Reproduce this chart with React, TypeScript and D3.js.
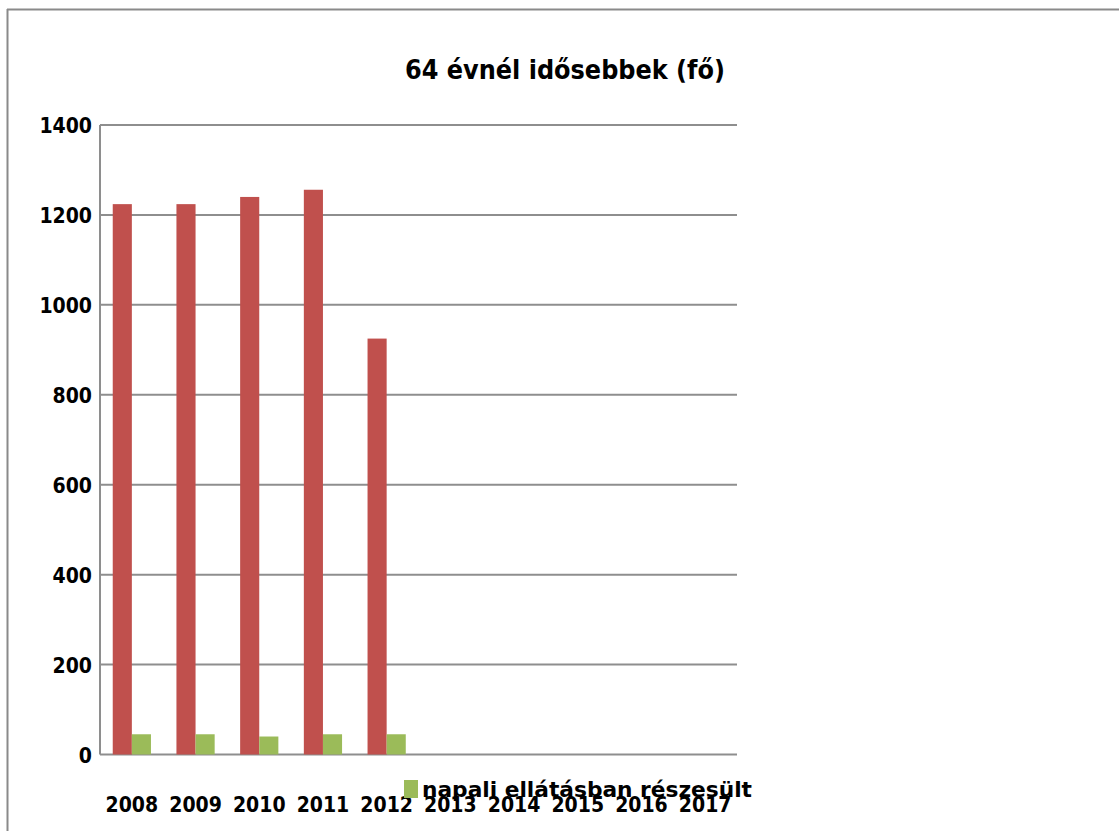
import React from "react";
import * as d3 from "d3";

const years = ["2008", "2009", "2010", "2011", "2012", "2013", "2014", "2015", "2016", "2017"];
const seriesRed: (number | null)[] = [1224, 1224, 1240, 1256, 925, null, null, null, null, null];
const seriesGreen: (number | null)[] = [45, 45, 40, 45, 45, null, null, null, null, null];
const yTicks = [0, 200, 400, 600, 800, 1000, 1200, 1400];
const title = "64 évnél idősebbek (fő)";
const legendLabel = "napali ellátásban részesült";

const W = 1119;
const H = 831;
const FONT = "'DejaVu Sans Condensed', 'DejaVu Sans', sans-serif";

export default function App() {
  const left = 100, right = 737, top = 125, bottom = 754.5;
  const x = d3.scaleBand<string>().domain(years).range([left, right]).paddingInner(0.4).paddingOuter(0.2);
  const y = d3.scaleLinear().domain([0, 1400]).range([bottom, top]);
  const bw = x.bandwidth() / 2;
  const grid = "#8e8e8e";
  return (
    <svg width={W} height={H} style={{ position: "absolute", left: 0, top: 0, background: "#fff" }}>
      <rect x={0} y={0} width={W} height={H} fill="#fff" />
      <line x1={7} x2={W} y1={9.5} y2={9.5} stroke="#8a8a8a" strokeWidth={2} />
      <line x1={7.5} x2={7.5} y1={9} y2={H} stroke="#8a8a8a" strokeWidth={2} />
      <text x={405} y={79} textLength={320} lengthAdjust="spacingAndGlyphs" fontFamily={FONT} fontWeight="bold" fontSize={26} fill="#000">{title}</text>
      {yTicks.map((t) => (
        <g key={t}>
          <line x1={left} x2={right} y1={y(t)} y2={y(t)} stroke={grid} strokeWidth={2} />
          <text x={92} y={y(t) + 8} textAnchor="end" fontFamily={FONT} fontWeight="bold" fontSize={21} fill="#000">{t}</text>
        </g>
      ))}
      <line x1={left} x2={left} y1={top} y2={bottom} stroke={grid} strokeWidth={2} />
      {years.map((yr, i) => (
        <g key={yr}>
          {seriesRed[i] != null && (
            <rect x={x(yr)!} y={y(seriesRed[i]!)} width={bw} height={bottom - y(seriesRed[i]!)} fill="#C0504D" />
          )}
          {seriesGreen[i] != null && (
            <rect x={x(yr)! + bw} y={y(seriesGreen[i]!)} width={bw} height={bottom - y(seriesGreen[i]!)} fill="#9BBB59" />
          )}
          <text x={x(yr)! + x.bandwidth() / 2} y={812} textAnchor="middle" fontFamily={FONT} fontWeight="bold" fontSize={21} fill="#000">{yr}</text>
        </g>
      ))}
      <rect x={404} y={780} width={14} height={18} fill="#9BBB59" />
      <text x={422} y={797} textLength={330} lengthAdjust="spacingAndGlyphs" fontFamily={FONT} fontWeight="bold" fontSize={21} fill="#000">{legendLabel}</text>
    </svg>
  );
}
